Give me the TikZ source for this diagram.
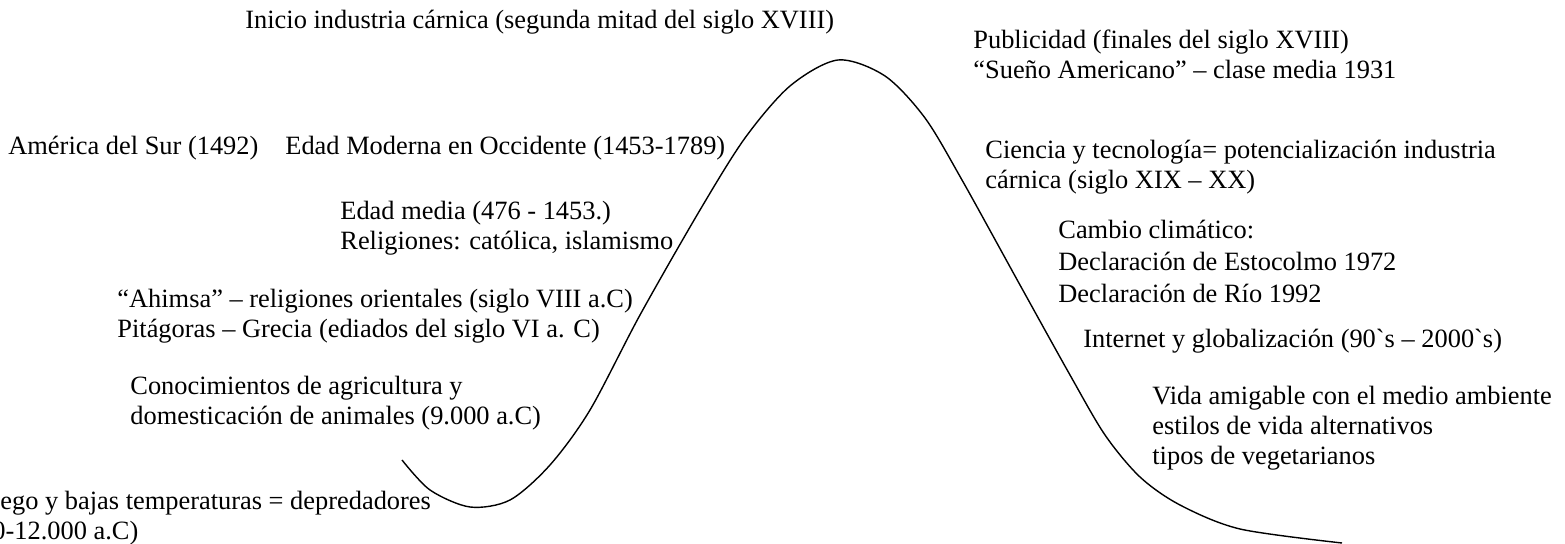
\documentclass[tikz,border=0pt]{standalone}
\usepackage{fontspec}
\setmainfont{Liberation Serif}
\begin{document}
\begin{tikzpicture}[x=0.5pt,y=-0.5pt,
  lbl/.style={anchor=base west, inner sep=0pt, font=\fontsize{13.2}{15.2}\selectfont},
  curveline/.style={line width=0.7pt, black}]
\useasboundingbox (0,0) rectangle (1565,544);
% curve
\draw[curveline] plot[smooth, tension=0.5] coordinates {
  (402,460) (430,490) (470,507) (510,500) (550,465) (590,410) (640,315)
  (700,210) (745,138) (790,86) (838,60) (885,76) (925,118) (962,180)
  (1020,285) (1070,375) (1105,435) (1140,477) (1180,505) (1240,529) (1342,543)};
% texts
\node[lbl] (inicio) at (245,29) {Inicio industria cárnica (segunda mitad del siglo XVIII)};
\node[lbl] (publ1) at (973,49) {Publicidad (finales del siglo XVIII)};
\node[lbl] (publ2) at (973,79) {“Sueño Americano” – clase media 1931};
\node[lbl] (amer) at (8,155) {América del Sur (1492)};
\node[lbl] (moder) at (285,155) {Edad Moderna en Occidente (1453-1789)};
\node[lbl] (cien1) at (985,159) {Ciencia y tecnología= potencialización industria};
\node[lbl] (cien2) at (985,189) {cárnica (siglo XIX – XX)};
\node[lbl] (media1) at (340,220) {Edad media (476 - 1453.)};
\node[lbl] (media2) at (340,250) {Religiones: católica, islamismo};
\node[lbl] (camb1) at (1058,239) {Cambio climático:};
\node[lbl] (camb2) at (1058,271) {Declaración de Estocolmo 1972};
\node[lbl] (camb3) at (1058,303) {Declaración de Río 1992};
\node[lbl] (ahim1) at (117,308) {“Ahimsa” – religiones orientales (siglo VIII a.C)};
\node[lbl] (ahim2) at (117,338) {Pitágoras – Grecia (ediados del siglo VI a. C)};
\node[lbl] (inter) at (1083,348) {Internet y globalización (90\textasciigrave s – 2000\textasciigrave s)};
\node[lbl] (cono1) at (130,395) {Conocimientos de agricultura y};
\node[lbl] (cono2) at (130,425) {domesticación de animales (9.000 a.C)};
\node[lbl] (vida1) at (1152,405) {Vida amigable con el medio ambiente};
\node[lbl] (vida2) at (1152,435) {estilos de vida alternativos};
\node[lbl] (vida3) at (1152,465) {tipos de vegetarianos};
\node[lbl] (fuego1) at (0,510) {ego y bajas temperaturas = depredadores};
\node[lbl] (fuego2) at (-8,540) {0-12.000 a.C)};
\end{tikzpicture}
\end{document}
